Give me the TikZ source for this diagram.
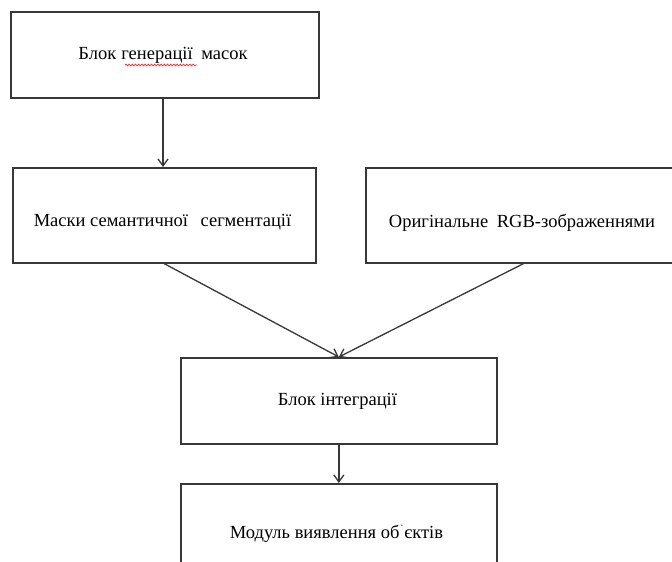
\documentclass[tikz,border=0pt]{standalone}
\usepackage{fontspec}
\setmainfont{Liberation Serif}
\usetikzlibrary{arrows.meta,decorations.pathmorphing}

\tikzset{
  blockbox/.style={draw=black!78, line width=1.7pt, inner sep=0pt, anchor=north west},
  caption/.style={inner sep=0pt, font=\fontsize{18.5}{22}\selectfont, text=black},
  flow/.style={draw=black!78, line width=1.3pt, -{Straight Barb[length=7pt,width=10pt,line width=1.3pt]}},
  spellmark/.style={draw=red!85, line width=0.7pt, decorate,
    decoration={snake, segment length=3.2pt, amplitude=0.9pt}}
}

\begin{document}
\begin{tikzpicture}[x=1pt, y=-1pt]
  \clip (0,0) rectangle (672,562);
  \fill[white] (0,0) rectangle (672,562);

  % blocks (corner, width, height)
  \node[blockbox, minimum width=308pt, minimum height=86pt] (gen) at (10,11) {};
  \node[blockbox, minimum width=303pt, minimum height=95pt] (mask) at (12,167) {};
  \node[blockbox, minimum width=315pt, minimum height=95pt] (rgb) at (365,167) {};
  \node[blockbox, minimum width=316pt, minimum height=86pt] (integ) at (180,357) {};
  \node[blockbox, minimum width=316pt, minimum height=110pt] (detect) at (180,483) {};

  % captions
  \node[caption] (tgen) at (163,55) {Блок \hspace{0.5pt}генерації\hspace{4pt} масок};
  \node[caption] (tmask) at (162.5,222) {Маски семантичної\hspace{8pt} сегментації};
  \node[caption] (trgb) at (522,223) {Оригінальне\hspace{4pt} RGB-зображеннями};
  \node[caption] (tinteg) at (337.5,401) {Блок інтеграції};
  \node[caption] (tdetect) at (336.5,534) {Модуль виявлення об\kern1pt\raisebox{0.9ex}{\fontsize{9}{9}\selectfont\textasciigrave}\kern1pt єктів};

  % spell-check underline
  \draw[spellmark] (125,65) -- (197,65);

  % connectors
  \draw[flow] (gen.south -| 163,0) -- (mask.north -| 163,0);
  \draw[flow] (mask.south) -- (integ.north);
  \draw[flow] (rgb.south) -- (integ.north);
  \draw[flow] (integ.south) -- (detect.north);
\end{tikzpicture}
\end{document}
